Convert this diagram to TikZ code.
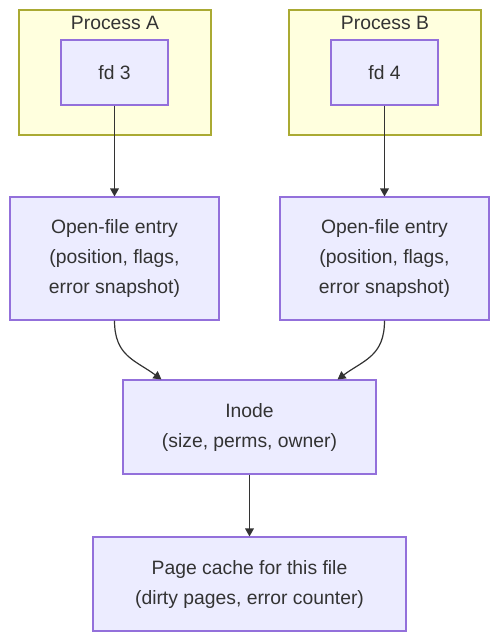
\documentclass[tikz,border=0pt]{standalone}
\usepackage{fontspec}
\setmainfont{Liberation Sans}
\usepackage{tikz}
\usetikzlibrary{arrows.meta, calc}
\definecolor{nodefill}{HTML}{ECECFF}
\definecolor{nodeline}{HTML}{9370DB}
\definecolor{clusterfill}{HTML}{FFFFDE}
\definecolor{clusterline}{HTML}{AAAA33}
\definecolor{ink}{HTML}{333333}
\tikzset{
  box/.style     ={draw=nodeline, line width=0.8pt, fill=nodefill, align=center,
                   font=\fontsize{14.5}{22.5}\selectfont, text=ink, inner sep=0pt},
  fdbox/.style   ={box, minimum width=80.25pt, minimum height=48.75pt},
  entry/.style   ={box, minimum width=156.75pt, minimum height=92.25pt},
  wide/.style    ={box, minimum height=70.5pt},
  cluster/.style ={draw=clusterline, line width=0.8pt, fill=clusterfill,
                   minimum width=144pt, minimum height=93.75pt, inner sep=0pt},
  title/.style   ={font=\fontsize{14.5}{17}\selectfont, text=ink},
  flow/.style    ={-{Triangle[length=6pt,width=6.5pt]}, line width=0.9pt, draw=ink}
}

\begin{document}
\begin{tikzpicture}[x=0.75pt, y=-0.75pt]
  \useasboundingbox (0,0) rectangle (500,641);

  % processes
  \node[cluster] (procA) at (115,72.5) {};
  \node[title]   (procAlbl) at (115,23) {Process A};
  \node[fdbox]   (fdA) at (114.5,72.5) {fd 3};

  \node[cluster] (procB) at (385,72.5) {};
  \node[title]   (procBlbl) at (385,23) {Process B};
  \node[fdbox]   (fdB) at (384.5,72.5) {fd 4};

  % kernel objects
  \node[entry] (openA) at (114.5,258.5) {Open-file entry\\(position, flags,\\error snapshot)};
  \node[entry] (openB) at (384.5,258.5) {Open-file entry\\(position, flags,\\error snapshot)};
  \node[wide, minimum width=189.75pt] (inode) at (249.5,427) {Inode\\(size, perms, owner)};
  \node[wide, minimum width=234.75pt] (cache) at (249.5,584) {Page cache for this file\\(dirty pages, error counter)};

  \draw[flow] (fdA) -- (openA);
  \draw[flow] (fdB) -- (openB);
  \draw[flow] (openA.south) .. controls (114.5,356) and (135,360) .. ($(inode.north west)+(39,0)$);
  \draw[flow] (openB.south) .. controls (384.5,356) and (364,360) .. ($(inode.north east)+(-39,0)$);
  \draw[flow] (inode) -- (cache);
\end{tikzpicture}
\end{document}
